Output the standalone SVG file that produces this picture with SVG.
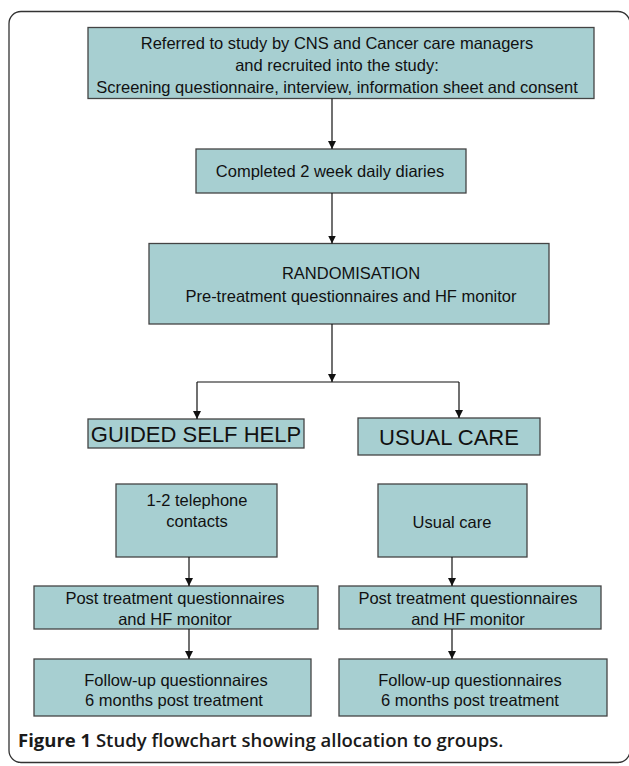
<svg xmlns="http://www.w3.org/2000/svg" width="629" height="766" viewBox="0 0 629 766">
<defs>
<marker id="ah" viewBox="0 0 8 10" refX="8" refY="5" markerWidth="8" markerHeight="10" markerUnits="userSpaceOnUse" orient="auto">
<path d="M0,1 L8,5 L0,9 Z" fill="#111"/>
</marker>
</defs>
<style>
.box{fill:#a7cfd1;stroke:#444;stroke-width:1.3}
.t{font-family:"Liberation Sans",Arial,sans-serif;font-size:16.5px;fill:#111;text-anchor:middle;dominant-baseline:central}
.big{font-size:22px}
.c{fill:none;stroke:#111;stroke-width:1.2}
.cap{font-family:"Open Sans","Noto Sans",sans-serif;font-size:18.5px;fill:#1a1a1a}
</style>
<rect x="9" y="11.5" width="621" height="751" rx="12" fill="none" stroke="#333" stroke-width="1.3"/>
<g id="n1"><rect class="box" x="88" y="27.5" width="506" height="71"/>
<text class="t" x="337" y="43">Referred to study by CNS and Cancer care managers</text>
<text class="t" x="337" y="65">and recruited into the study:</text>
<text class="t" x="337" y="87">Screening questionnaire, interview, information sheet and consent</text></g>
<g id="n2"><rect class="box" x="196" y="149" width="270" height="44"/>
<text class="t" x="330" y="171">Completed 2 week daily diaries</text></g>
<g id="n3"><rect class="box" x="149" y="243.5" width="400" height="80.5"/>
<text class="t" x="351" y="273">RANDOMISATION</text>
<text class="t" x="351" y="296">Pre-treatment questionnaires and HF monitor</text></g>
<g id="n4"><rect class="box" x="88" y="419" width="216" height="29"/>
<text class="t big" x="196" y="434">GUIDED SELF HELP</text></g>
<g id="n5"><rect class="box" x="358" y="418" width="182" height="37"/>
<text class="t big" x="449" y="437">USUAL CARE</text></g>
<g id="n6"><rect class="box" x="116" y="484" width="161" height="73"/>
<text class="t" x="197" y="500">1-2 telephone</text>
<text class="t" x="197" y="521">contacts</text></g>
<g id="n7"><rect class="box" x="378" y="484" width="149" height="73"/>
<text class="t" x="452" y="522">Usual care</text></g>
<g id="n8"><rect class="box" x="34" y="586" width="284" height="43"/>
<text class="t" x="175" y="598">Post treatment questionnaires</text>
<text class="t" x="175" y="619">and HF monitor</text></g>
<g id="n9"><rect class="box" x="339" y="586" width="262" height="43"/>
<text class="t" x="468" y="598">Post treatment questionnaires</text>
<text class="t" x="468" y="619">and HF monitor</text></g>
<g id="n10"><rect class="box" x="34" y="659" width="277" height="57"/>
<text class="t" x="176" y="680">Follow-up questionnaires</text>
<text class="t" x="174" y="700">6 months post treatment</text></g>
<g id="n11"><rect class="box" x="339" y="659" width="268" height="57"/>
<text class="t" x="470" y="680">Follow-up questionnaires</text>
<text class="t" x="470" y="700">6 months post treatment</text></g>
<g id="connectors">
<path class="c" d="M332,98.5 V149" marker-end="url(#ah)"/>
<path class="c" d="M332,193 V243.5" marker-end="url(#ah)"/>
<path class="c" d="M332,324 V382" marker-end="url(#ah)"/>
<path class="c" d="M197,382 H459"/>
<path class="c" d="M197,382 V419" marker-end="url(#ah)"/>
<path class="c" d="M459,382 V418" marker-end="url(#ah)"/>
<path class="c" d="M189,557 V586" marker-end="url(#ah)"/>
<path class="c" d="M452,557 V586" marker-end="url(#ah)"/>
<path class="c" d="M189,629 V659" marker-end="url(#ah)"/>
<path class="c" d="M452,629 V659" marker-end="url(#ah)"/>
</g>
<text class="cap" x="18" y="747"><tspan font-weight="700">Figure 1</tspan><tspan font-weight="600"> Study flowchart showing allocation to groups.</tspan></text>
</svg>
